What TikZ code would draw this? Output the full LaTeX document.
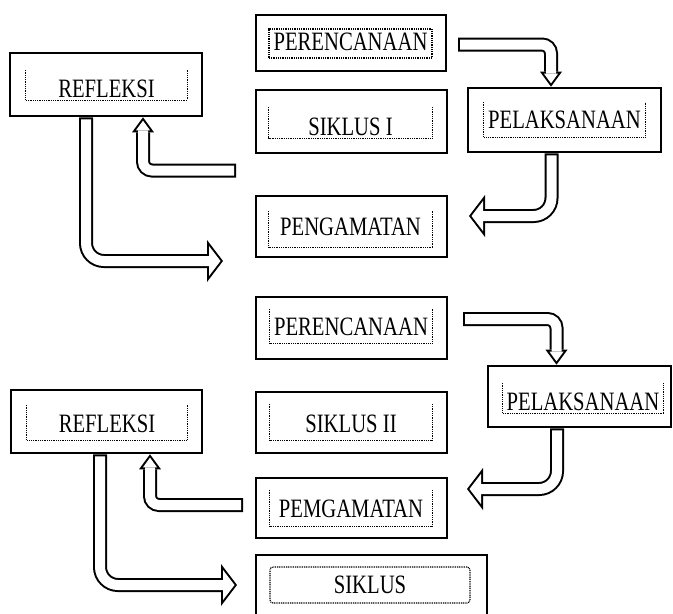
\documentclass[tikz,border=0pt]{standalone}
\usepackage{fontspec, graphicx}
\setmainfont{Liberation Serif}
\usetikzlibrary{arrows.meta, calc}
\newcommand{\teks}[1]{\scalebox{0.78}[1]{#1}}
\tikzset{kotak/.style = {draw, line width=2.6pt, inner sep=0pt}}
\tikzset{isi/.style = {anchor=base, inner sep=0pt, font=\fontsize{26.5}{30}\selectfont}}
\tikzset{titik/.style = {line width=1.1pt, dash pattern=on 1pt off 0.8pt}}
\tikzset{panahkecil/.style = {color=white, line width=10pt, shorten <=2pt, shorten >=3.4pt,
    -{Triangle[length=9.6pt, width=14pt, line width=0pt]},
    preaction = {draw, color=black, line width=14pt, shorten <=0pt, shorten >=0pt,
    -{Triangle[length=15pt, width=22pt, line width=0pt]}}}}
\tikzset{panahbesar/.style = {color=white, line width=10pt, shorten <=2pt, shorten >=2.5pt,
    -{Triangle[length=11.5pt, width=30pt, line width=0pt]},
    preaction = {draw, color=black, line width=14pt, shorten <=0pt, shorten >=0pt,
    -{Triangle[length=16pt, width=42pt, line width=0pt]}}}}

\begin{document}
\begin{tikzpicture}[x=1pt, y=-1pt]
    \useasboundingbox (0,0) rectangle (673,614);
    \node[kotak, minimum width=190pt, minimum height=56pt] (ren1) at (351,43) {};
    \node[kotak, minimum width=192pt, minimum height=63pt] (ref1) at (106,84.5) {};
    \node[kotak, minimum width=191pt, minimum height=63pt] (sik1) at (351.5,121.5) {};
    \node[kotak, minimum width=191pt, minimum height=61pt] (pen1) at (351.5,226.5) {};
    \node[kotak, minimum width=193pt, minimum height=64pt] (pel1) at (564.5,120) {};
    \node[kotak, minimum width=191pt, minimum height=62pt] (ren2) at (351.5,328) {};
    \node[kotak, minimum width=191pt, minimum height=63pt] (ref2) at (106.5,421.5) {};
    \node[kotak, minimum width=191pt, minimum height=61pt] (sik2) at (351.5,422.5) {};
    \node[kotak, minimum width=191pt, minimum height=60pt] (pem2) at (351.5,508) {};
    \node[kotak, minimum width=183pt, minimum height=61pt] (pel2) at (579.5,396.5) {};
    \node[kotak, minimum width=231pt, minimum height=63pt] (sik3) at (371.5,586.5) {};

    \node[isi, draw, titik, minimum width=163pt, text height=21pt, text depth=8pt] (ren1t) at (350.5,50) {\teks{PERENCANAAN}};
    \node[isi, minimum width=161pt, text height=27pt, text depth=3pt] (ref1t) at (106.5,97) {\teks{REFLEKSI}};
    \node[isi, minimum width=163pt, text height=28pt, text depth=3pt] (sik1t) at (350.5,135) {\teks{SIKLUS I}};
    \node[isi, minimum width=163pt, text height=24pt, text depth=12pt] (pen1t) at (350.5,235) {\teks{PENGAMATAN}};
    \node[isi, minimum width=161pt, text height=26pt, text depth=9pt] (pel1t) at (564.5,128) {\teks{PELAKSANAAN}};
    \node[isi, minimum width=162pt, text height=26pt, text depth=8pt] (ren2t) at (351,335) {\teks{PERENCANAAN}};
    \node[isi, minimum width=160pt, text height=27pt, text depth=8pt] (ref2t) at (107,432) {\teks{REFLEKSI}};
    \node[isi, minimum width=162pt, text height=28pt, text depth=8pt] (sik2t) at (351,432) {\teks{SIKLUS II}};
    \node[isi, minimum width=162pt, text height=27pt, text depth=9pt] (pem2t) at (351,517) {\teks{PEMGAMATAN}};
    \node[isi, minimum width=160pt, text height=27pt, text depth=3pt] (pel2t) at (583,410) {\teks{PELAKSANAAN}};
    \node[isi, draw, titik, rounded corners=3pt, minimum width=200pt, text height=26pt, text depth=10pt] (sik3t) at (370,593) {\teks{SIKLUS}};

    \draw[titik] (ref1t.north west) |- (ref1t.south east) -- (ref1t.north east);
    \draw[titik] (sik1t.north west) |- (sik1t.south east) -- (sik1t.north east);
    \draw[titik] (pen1t.north west) |- (pen1t.south east) -- (pen1t.north east);
    \draw[titik] (pel1t.north west) |- (pel1t.south east) -- (pel1t.north east);
    \draw[titik] (ren2t.north west) |- (ren2t.south east) -- (ren2t.north east);
    \draw[titik] (ref2t.north west) |- (ref2t.south east) -- (ref2t.north east);
    \draw[titik] (sik2t.north west) |- (sik2t.south east) -- (sik2t.north east);
    \draw[titik] (pem2t.north west) |- (pem2t.south east) -- (pem2t.north east);
    \draw[titik] (pel2t.north west) |- (pel2t.south east) -- (pel2t.north east);

    \coordinate (a1) at (458,44.5);
    \coordinate (b2) at (469,216);
    \coordinate (a3) at (236,170.5);
    \coordinate (b4) at (223,261);
    \coordinate (a5) at (463,319);
    \coordinate (b6) at (467,489);
    \coordinate (a7) at (243,505);
    \coordinate (b8) at (237,585);

    \draw[panahkecil, rounded corners=9pt] (a1) -| ([xshift=-13.5pt]pel1.north);
    \draw[panahbesar, rounded corners=18pt] ([xshift=-13pt]pel1.south) |- (b2);
    \draw[panahkecil, rounded corners=9pt] (a3) -| ([xshift=37pt]ref1.south);
    \draw[panahbesar, rounded corners=18pt] ([xshift=-20pt]ref1.south) |- (b4);
    \draw[panahkecil, rounded corners=9pt] (a5) -| ([xshift=-23pt]pel2.north);
    \draw[panahbesar, rounded corners=18pt] ([xshift=-22.5pt]pel2.south) |- (b6);
    \draw[panahkecil, rounded corners=9pt] (a7) -| ([xshift=43.5pt]ref2.south);
    \draw[panahbesar, rounded corners=18pt] ([xshift=-6.5pt]ref2.south) |- (b8);
\end{tikzpicture}
\end{document}
